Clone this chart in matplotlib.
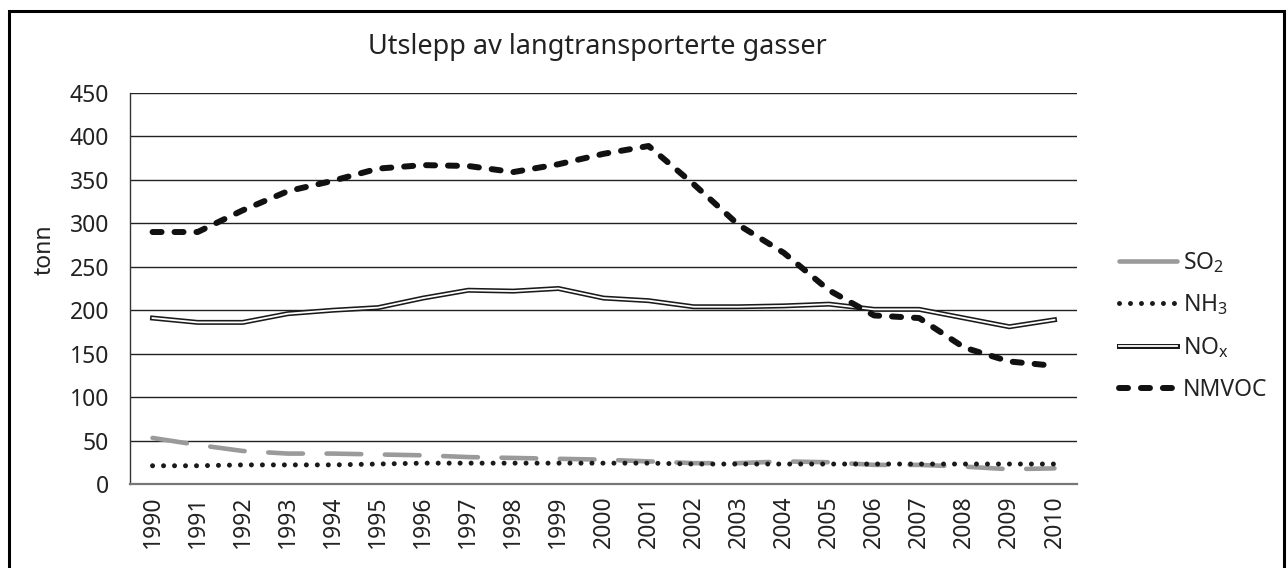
import matplotlib
matplotlib.use("Agg")
import matplotlib.pyplot as plt
import matplotlib.patheffects as pe
from matplotlib.lines import Line2D
from matplotlib.patches import Rectangle

years = list(range(1990, 2011))
so2 = [53, 45, 38, 35, 35, 34, 33, 31, 30, 29, 28, 26, 24, 24, 26, 25, 22, 22, 20, 17, 18]
nh3 = [21, 21, 22, 22, 22, 23, 24, 24, 24, 24, 24, 24, 23, 23, 23, 23, 23, 23, 23, 23, 23]
nox = [191, 186, 186, 196, 200, 203, 214, 223, 222, 225, 214, 211, 204, 204, 205, 207, 201, 201, 191, 181, 189]
nmvoc = [290, 290, 315, 337, 349, 363, 367, 366, 359, 368, 380, 389, 345, 298, 266, 223, 194, 191, 157, 141, 136]

title = "Utslepp av langtransporterte gasser"
ylabel = "tonn"
labels = ["SO$_{2}$", "NH$_{3}$", "NO$_{\\mathrm{x}}$", "NMVOC"]

FONT = "Noto Sans"
plt.rcParams["font.family"] = [FONT, "DejaVu Sans"]
plt.rcParams["mathtext.fontset"] = "custom"
plt.rcParams["mathtext.rm"] = FONT
plt.rcParams["mathtext.it"] = FONT
plt.rcParams["mathtext.default"] = "regular"
plt.rcParams["lines.scale_dashes"] = False

W, H = 1287, 568
fig = plt.figure(figsize=(W / 100, H / 100), dpi=100)
ax = fig.add_axes([130 / W, (H - 484) / H, (1077 - 130) / W, (484 - 93) / H])

txtc = "#222222"
fs = 16.5

so2_style = dict(color="#9a9a9a", lw=3.3, solid_capstyle="round", dash_capstyle="round")
nh3_style = dict(color="#1a1a1a", lw=3.6, dash_capstyle="round", linestyle=(0, (0.01, 7.9)))
nox_style = dict(color="white", lw=1.3, solid_joinstyle="miter",
                 path_effects=[pe.Stroke(linewidth=3.6, foreground="#1a1a1a"), pe.Normal()])
nmvoc_style = dict(color="#111111", lw=4.3, dash_capstyle="round", linestyle=(0, (6.5, 9.3)))

ax.plot(years, so2, linestyle=(0, (25, 17)), zorder=3, **so2_style)
ax.plot(years, nh3, zorder=4, **nh3_style)
ax.plot(years, nox, zorder=3, **nox_style)
ax.plot(years, nmvoc, zorder=4, **nmvoc_style)

ax.set_xlim(1989.5, 2010.5)
ax.set_ylim(0, 450)
ax.set_yticks(range(0, 451, 50))
ax.set_xticks(years)
ax.set_xticklabels([str(y) for y in years], rotation=90, fontsize=fs, color=txtc)
ax.tick_params(axis="y", labelsize=fs, labelcolor=txtc, length=0, pad=15)
ax.tick_params(axis="x", length=0, pad=8)

for v in range(50, 451, 50):
    ax.axhline(v, color="#222222", lw=1.0, zorder=1)
for s in ["top", "right"]:
    ax.spines[s].set_visible(False)
ax.spines["left"].set_color("#333333")
ax.spines["left"].set_linewidth(1.0)
ax.spines["bottom"].set_color("#777777")
ax.spines["bottom"].set_linewidth(1.6)

fig.text(597 / W, 1 - 47 / H, title, ha="center", va="center", fontsize=19.5, color=txtc)
fig.text(45 / W, 1 - 250 / H, ylabel, ha="center", va="center", rotation=90, fontsize=fs, color=txtc)

handles = [Line2D([], [], **so2_style),
           Line2D([], [], **nh3_style),
           Line2D([], [], **nox_style),
           Line2D([], [], **nmvoc_style)]
leg = fig.legend(handles, labels, loc="center left",
                 bbox_to_anchor=(1098 / W, 1 - 326 / H), frameon=False,
                 fontsize=fs, handlelength=2.55, handletextpad=0.25, labelspacing=0.78)
for t in leg.get_texts():
    t.set_color(txtc)

# outer border
fig.patches.append(Rectangle((9 / W, -0.05), (1284 - 9) / W, 1.05 - 11 / H,
                             transform=fig.transFigure, fill=False,
                             edgecolor="black", lw=2.2))

fig.savefig("out.png", dpi=100)
